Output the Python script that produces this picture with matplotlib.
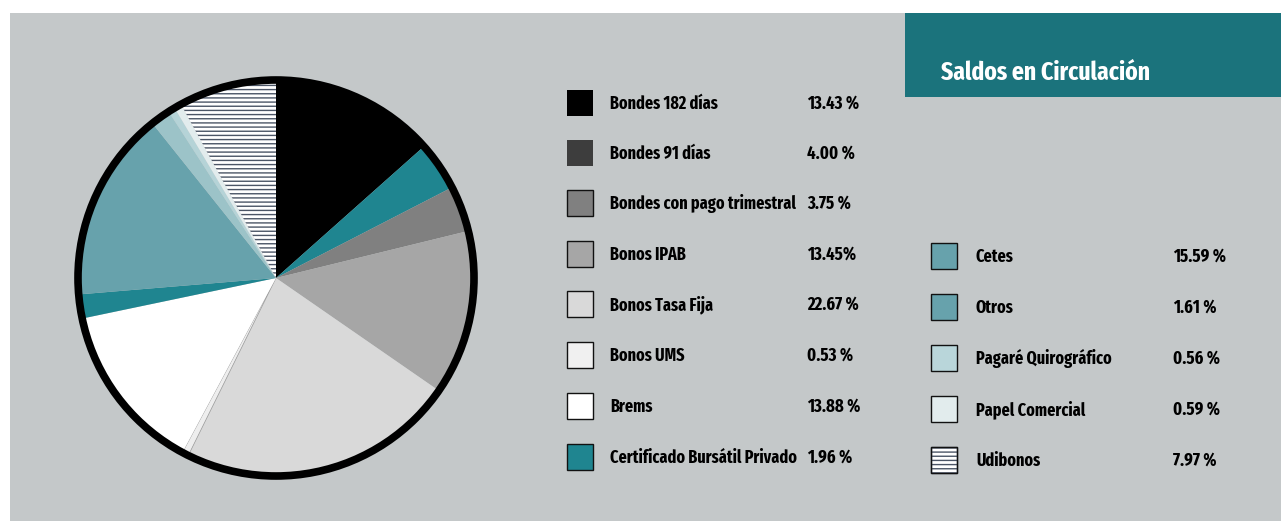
import matplotlib
matplotlib.use("Agg")
import matplotlib.pyplot as plt
from matplotlib.patches import Rectangle, Circle

categories = [
    "Bondes 182 días", "Bondes 91 días", "Bondes con pago trimestral",
    "Bonos IPAB", "Bonos Tasa Fija", "Bonos UMS", "Brems",
    "Certificado Bursátil Privado", "Cetes", "Otros",
    "Pagaré Quirográfico", "Papel Comercial", "Udibonos",
]
shares = [13.43, 4.00, 3.75, 13.45, 22.67, 0.53, 13.88,
          1.96, 15.59, 1.61, 0.56, 0.59, 7.97]
value_labels = ["13.43 %", "4.00 %", "3.75 %", "13.45%", "22.67 %", "0.53 %",
                "13.88 %", "1.96 %", "15.59 %", "1.61 %", "0.56 %", "0.59 %",
                "7.97 %"]
title = "Saldos en Circulación"

pie_colors = ["#000000", "#1f8590", "#808080", "#a6a6a6", "#d9d9d9",
              "#eeeeee", "#ffffff", "#1f8590", "#67a2ac", "#9cc3c8",
              "#b5d3d7", "#e2eced", "#ffffff"]
key_colors = ["#000000", "#3d3d3d", "#808080", "#a6a6a6", "#d9d9d9",
              "#f0f0f0", "#ffffff", "#1f8590", "#67a2ac", "#67a2ac",
              "#b9d6da", "#e2eced", "#ffffff"]
key_border = [False, False] + [True] * 11
HATCH_IDX = 12

BG = "#c4c8c9"
HEADER = "#1b737c"
HATCH_COLOR = "#4b5566"

# condensed bold face for all text
plt.rcParams["font.family"] = ["Fira Sans Extra Condensed", "Barlow Condensed", "DejaVu Sans"]
plt.rcParams["hatch.linewidth"] = 1.0

W, H = 1281, 521
fig = plt.figure(figsize=(W / 100, H / 100), dpi=100)
fig.patch.set_facecolor("white")

# pixel-coordinate overlay for the panel, header and key
ov = fig.add_axes([0, 0, 1, 1])
ov.set_xlim(0, W)
ov.set_ylim(H, 0)
ov.axis("off")
ov.add_patch(Rectangle((10, 13), W - 10, H - 13, facecolor=BG, edgecolor="none", zorder=0))
ov.add_patch(Rectangle((905, 13), W - 905, 84, facecolor=HEADER, edgecolor="none", zorder=1))
ov.text(941, 80, title, color="white", fontsize=18.5, fontweight="bold",
        va="baseline", ha="left", zorder=2)

# pie chart
cx, cy, r = 276, 278, 198
pad = 1.03
pax = fig.add_axes([(cx - r * pad) / W, 1 - (cy + r * pad) / H,
                    2 * r * pad / W, 2 * r * pad / H])
pax.set_zorder(3)
pax.set_facecolor("none")
wedges, _ = pax.pie(shares, colors=pie_colors, startangle=90, counterclock=False,
                    radius=1.0, wedgeprops=dict(linewidth=0))
for i, w in enumerate(wedges):
    if i == 5:
        w.set_edgecolor("#9a9a9a")
        w.set_linewidth(0.5)
    if i == HATCH_IDX:
        w.set_hatch("----")
        w.set_edgecolor(HATCH_COLOR)
        w.set_linewidth(0)
pax.add_patch(Circle((0, 0), 1.0, facecolor="none", edgecolor="black", linewidth=5.5))
pax.set_xlim(-pad, pad)
pax.set_ylim(-pad, pad)
pax.set_aspect("equal")
pax.axis("off")

# key: two columns (row centres in pixels)
left_rows = [103, 153, 203, 254, 304, 355, 406, 457]
right_rows = [256, 307, 358, 409, 460]
positions = [(567, 610, 807, y) for y in left_rows] + \
            [(931, 976, 1173, y) for y in right_rows]
for i, (sx, tx, vx, y) in enumerate(positions):
    sq = Rectangle((sx, y - 13), 26, 26, facecolor=key_colors[i],
                   edgecolor="#111111" if key_border[i] else "none",
                   linewidth=1.0, zorder=2)
    if i == HATCH_IDX:
        sq.set_hatch("----")
        sq.set_edgecolor(HATCH_COLOR)
        ov.add_patch(sq)
        ov.add_patch(Rectangle((sx, y - 13), 26, 26, facecolor="none",
                               edgecolor="#111111", linewidth=1.0, zorder=3))
    else:
        ov.add_patch(sq)
    ov.text(tx, y + 6, categories[i], fontsize=12.6, fontweight="bold",
            color="black", va="baseline", ha="left", zorder=2)
    ov.text(vx, y + 6, value_labels[i], fontsize=13, fontweight="bold",
            color="black", va="baseline", ha="left", zorder=2)

fig.savefig("out.png", dpi=100, facecolor=fig.get_facecolor())
